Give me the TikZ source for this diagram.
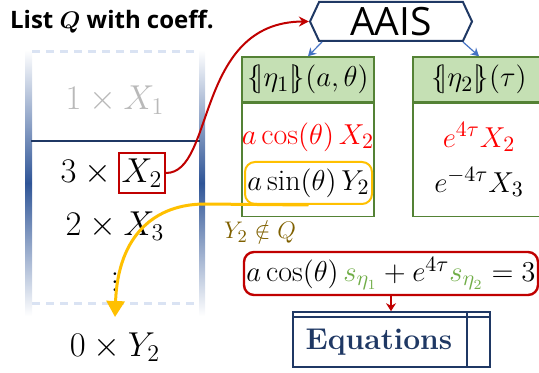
\documentclass[tikz,border=0pt]{standalone}
\usepackage{amsmath}
\usepackage{fontspec}
\setsansfont{Open Sans}
\usepackage{tikz}
\usetikzlibrary{positioning,arrows.meta,shapes.symbols,calc}

\definecolor{navy}{RGB}{31,56,100}
\definecolor{listblue}{RGB}{47,85,151}
\definecolor{dashblue}{RGB}{218,227,243}
\definecolor{boxgreen}{RGB}{84,130,53}
\definecolor{hdrgreen}{RGB}{197,224,180}
\definecolor{sgreen}{RGB}{112,173,71}
\definecolor{darkred}{RGB}{192,0,0}
\definecolor{ambr}{RGB}{255,192,0}
\definecolor{olive}{RGB}{127,96,0}
\definecolor{arrowblue}{RGB}{68,114,196}

\newcommand{\lbb}{\{\mkern-4mu|}
\newcommand{\rbb}{|\mkern-4mu\}}

\begin{document}
\begin{tikzpicture}[
    x=0.5pt,
    y=-0.5pt,
    >=Stealth,
    font=\fontsize{15}{18}\selectfont,
    qitem/.style={inner sep=1pt, font=\fontsize{16.5}{19}\selectfont},
    hdr/.style={draw=boxgreen, fill=hdrgreen, line width=0.75pt, minimum width=66pt, minimum height=22.5pt, inner sep=0pt},
    bodybox/.style={draw=boxgreen, line width=0.75pt, minimum width=66pt, minimum height=56.5pt},
    tag/.style={draw=#1, line width=1pt, rounded corners=5pt, inner sep=0pt},
    redline/.style={darkred, line width=1pt, -{Stealth[length=5pt,width=5pt]}},
    blueline/.style={arrowblue, line width=0.6pt, -{Stealth[length=4pt,width=4.5pt]}}
]
\useasboundingbox (0,0) rectangle (539,373);

% --- Liste Q ---
\node[font=\sffamily\bfseries\fontsize{12}{14}\selectfont] (title) at (112,22) {List {\boldmath$Q$} with coeff.};

\shade[top color=white, bottom color=white, middle color=listblue] (25,50) rectangle (32,316);
\shade[top color=white, bottom color=white, middle color=listblue] (199,50) rectangle (205,316);
\draw[dashblue, line width=1.5pt, dash pattern=on 4pt off 3pt] (32,52) -- (199,52);
\draw[dashblue, line width=1.5pt, dash pattern=on 4pt off 3pt] (32,303) -- (199,303);
\draw[navy, line width=0.8pt] (31,141) -- (200,141);

\node[qitem, text=gray!55] (q1) at (115,100) {$1\times X_1$};
\node[tag=darkred, rounded corners=0pt, minimum width=23pt, minimum height=20pt, font=\fontsize{16.5}{19}\selectfont] (x2) at (142,173) {$X_2$};
\node[qitem, left=-1.5pt of x2] (q2) {$3\times{}$};
\node[qitem] (q3) at (115,226) {$2\times X_3$};
\node[inner sep=0pt, font=\fontsize{16.5}{19}\selectfont] (dots) at (115,276) {$\vdots$};
\node[qitem] (q0) at (115,347) {$0\times Y_2$};
\coordinate (tip) at (115,317);

% --- AAIS ---
\node[signal, signal to=west and east, signal pointer angle=130, draw=navy, line width=1pt,
      minimum width=81pt, minimum height=19.5pt, inner sep=0pt,
      font=\sffamily\fontsize{19.5}{21}\selectfont] (aais) at (391,21.5) {AAIS};

\node[hdr] (h1) at (308,79.5) {$\lbb\eta_1\rbb(a,\theta)$};
\node[bodybox, below=0pt of h1] (b1) {};
\node[hdr] (h2) at (479,79.5) {$\lbb\eta_2\rbb(\tau)$};
\node[bodybox, below=0pt of h2] (b2) {};

\node[text=red] (c1) at (308,137) {$a\cos(\theta)\,X_2$};
\node[tag=ambr, minimum width=63.5pt, minimum height=21pt] (s1) at (308.5,183) {$a\sin(\theta)\,Y_2$};
\node[text=red] (c2) at (479,137) {$e^{4\tau}X_2$};
\node (d2) at (479,182) {$e^{-4\tau}X_3$};

\draw[blueline] ([xshift=-34.5pt]aais.south) -- (h1.north);
\draw[blueline] ([xshift=36pt]aais.south) -- (h2.north);

% --- Gleichungen ---
\node[text=olive, font=\fontsize{13}{15}\selectfont, inner sep=1pt] (notin) at (260,232) {$Y_2\notin Q$};
\node[tag=darkred, line width=1.2pt, minimum width=147pt, minimum height=21.5pt] (eq)
    at (391,273.5) {$a\cos(\theta)\,{\color{sgreen}s_{\eta_1}}+e^{4\tau}{\color{sgreen}s_{\eta_2}}=3$};
\node[draw=navy, line width=0.8pt, minimum width=98.5pt, minimum height=27.5pt] (eqs) at (391.5,339.5) {};
\draw[navy, line width=0.8pt] ($(eqs.north west)+(0,6)$) -- ($(eqs.north east)+(0,6)$);
\draw[navy, line width=0.8pt] ($(eqs.north east)+(-24,0)$) -- ($(eqs.south east)+(-24,0)$);
\node[text=navy, font=\bfseries\fontsize{15}{18}\selectfont] (eqtxt) at (379,342) {Equations};

\draw[darkred, line width=1pt, -{Stealth[length=4pt,width=5pt]}] (eq.south) -- (eq.south |- eqs.north);

% --- Verbindungen ---
\draw[redline] (x2.east) .. controls (215,173) and (195,22) .. (aais.west);
\draw[ambr, line width=1.5pt, -{Triangle[length=8pt,width=9pt]}]
    (s1.south) -- (205,204) .. controls (155,204) and (118,235) .. (tip);

\end{tikzpicture}
\end{document}
